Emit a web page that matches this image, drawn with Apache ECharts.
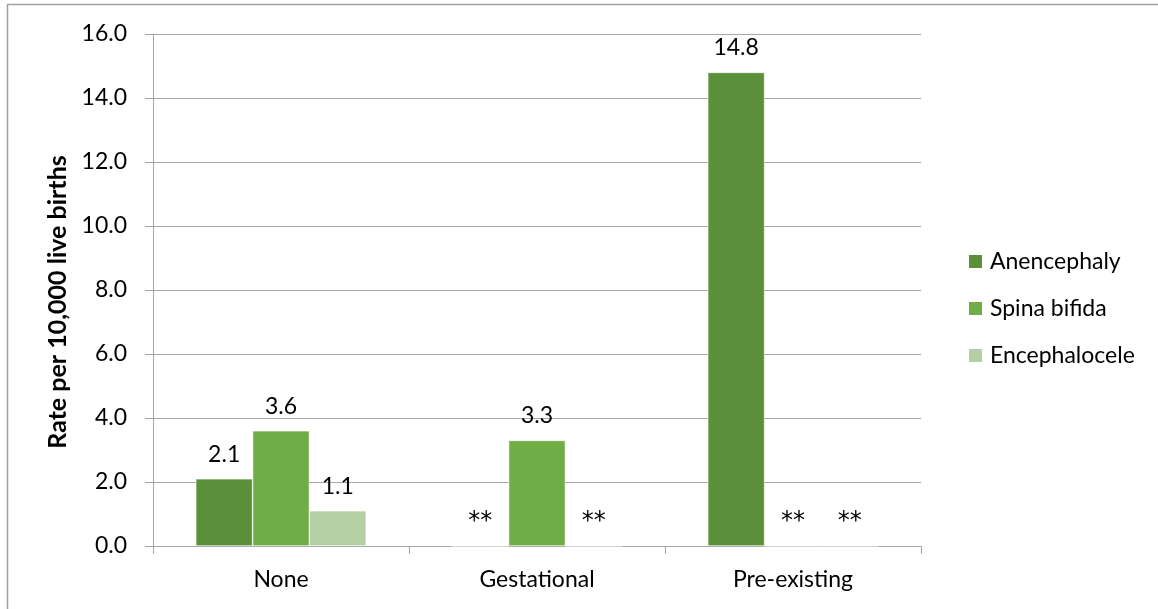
<!DOCTYPE html>
<html>
<head>
<meta charset="utf-8">
<script src="https://cdn.jsdelivr.net/npm/echarts@6/dist/echarts.min.js"></script>
<style>
  html, body { margin: 0; padding: 0; background: #fff; }
  #chart { width: 1158px; height: 609px; }
</style>
</head>
<body>
<div id="chart"></div>
<script>
// Neural tube defect rates by maternal diabetes status (null = suppressed, shown as **)
const categories = ['None', 'Gestational', 'Pre-existing'];
const anencephaly = [2.1, null, 14.8];
const spinaBifida = [3.6, 3.3, null];
const encephalocele = [1.1, null, null];
const yTicks = { min: 0, max: 16, interval: 2 };

const FONT = 'Lato';
const FS = 23;
const colors = ['#5b8f3a', '#70ad47', '#b5cfa5'];

function toBarData(arr) {
  return arr.map(v => v === null ? { value: 0, suppressed: true } : { value: v });
}

function makeSeries(name, arr, color) {
  return {
    name: name,
    type: 'bar',
    data: toBarData(arr),
    barGap: '0%',
    barCategoryGap: '33.4%',
    itemStyle: { color: color, borderColor: '#ffffff', borderWidth: 0.6 },
    label: {
      show: true,
      position: 'top',
      distance: 13,
      fontFamily: FONT,
      fontSize: FS,
      color: '#000',
      formatter: p => p.data.suppressed ? '{ast|**}' : p.value.toFixed(1),
      rich: {
        ast: { fontFamily: 'DejaVu Sans', fontSize: 24, color: '#000', padding: [0, 0, -1, 0] }
      }
    }
  };
}

const chart = echarts.init(document.getElementById('chart'), null, { renderer: 'canvas' });
chart.setOption({
  animation: false,
  backgroundColor: '#fff',
  textStyle: { fontFamily: FONT },
  graphic: [{
    type: 'rect',
    shape: { x: 7.5, y: 4.5, width: 1300, height: 800 },
    style: { fill: 'none', stroke: '#a0a0a0', lineWidth: 1.5 },
    silent: true,
    z: -10
  }],
  grid: { left: 153, right: 237, top: 34, bottom: 63 },
  legend: {
    orient: 'vertical',
    left: 962,
    top: 245,
    itemWidth: 15,
    itemHeight: 15,
    itemGap: 24,
    icon: 'rect',
    textStyle: { fontFamily: FONT, fontSize: FS, color: '#000', padding: [0, 0, 0, 2] },
    data: ['Anencephaly', 'Spina bifida', 'Encephalocele']
  },
  xAxis: {
    type: 'category',
    data: categories,
    axisLine: { lineStyle: { color: '#a6a6a6', width: 1 } },
    axisTick: { show: true, length: 8, lineStyle: { color: '#a6a6a6' } },
    axisLabel: { fontFamily: FONT, fontSize: FS, color: '#000', margin: 22 }
  },
  yAxis: {
    type: 'value',
    min: yTicks.min,
    max: yTicks.max,
    interval: yTicks.interval,
    name: 'Rate per 10,000 live births',
    nameLocation: 'middle',
    nameGap: 83,
    nameRotate: 90,
    nameTextStyle: {
      fontFamily: FONT, fontSize: 25, fontWeight: 'bold', color: '#000',
      padding: [0, 24, 0, 0]
    },
    axisLine: { show: true, lineStyle: { color: '#a6a6a6', width: 1 } },
    axisTick: { show: true, length: 8, lineStyle: { color: '#a6a6a6' } },
    splitLine: { lineStyle: { color: '#a6a6a6', width: 1 } },
    axisLabel: {
      fontFamily: FONT, fontSize: FS, color: '#000', margin: 26,
      formatter: v => v.toFixed(1)
    }
  },
  series: [
    makeSeries('Anencephaly', anencephaly, colors[0]),
    makeSeries('Spina bifida', spinaBifida, colors[1]),
    makeSeries('Encephalocele', encephalocele, colors[2])
  ]
});
</script>
</body>
</html>
